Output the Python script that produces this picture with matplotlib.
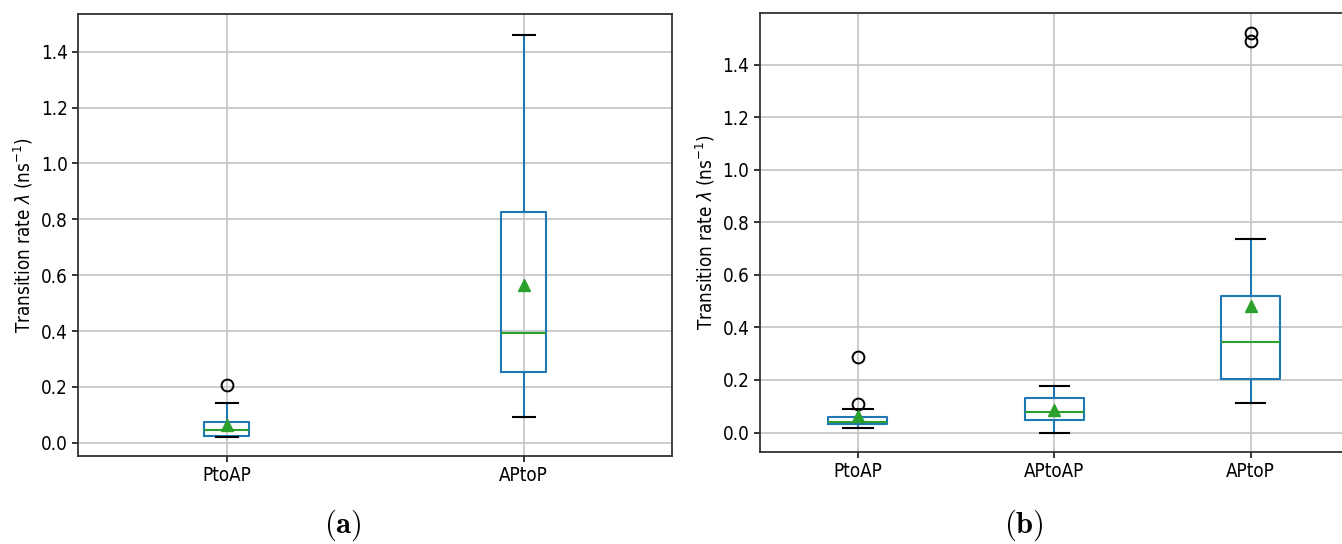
import matplotlib
matplotlib.use("Agg")
import matplotlib.pyplot as plt

# ===== data (box statistics) =====
# panel (a)
A_LABELS = ["PtoAP", "APtoP"]
A_WHISLO = [0.020, 0.092]
A_Q1 = [0.025, 0.253]
A_MED = [0.047, 0.393]
A_Q3 = [0.073, 0.828]
A_WHISHI = [0.142, 1.461]
A_MEAN = [0.064, 0.566]
A_FLIERS = [[0.207], []]

# panel (b)
B_LABELS = ["PtoAP", "APtoAP", "APtoP"]
B_WHISLO = [0.017, 0.000, 0.111]
B_Q1 = [0.032, 0.046, 0.202]
B_MED = [0.042, 0.080, 0.343]
B_Q3 = [0.058, 0.130, 0.520]
B_WHISHI = [0.091, 0.179, 0.736]
B_MEAN = [0.062, 0.085, 0.480]
B_FLIERS = [[0.109, 0.288], [], [1.490, 1.521]]

YTICKS = [0.0, 0.2, 0.4, 0.6, 0.8, 1.0, 1.2, 1.4]
YLABEL = r"Transition rate $\lambda$ (ns$^{-1}$)"

plt.rcParams["font.family"] = "DejaVu Sans"
plt.rcParams["font.stretch"] = "condensed"


def make_stats(labels, whislo, q1, med, q3, whishi, mean, fliers):
    stats = []
    for i in range(len(labels)):
        stats.append({
            "label": labels[i],
            "whislo": whislo[i],
            "q1": q1[i],
            "med": med[i],
            "q3": q3[i],
            "whishi": whishi[i],
            "mean": mean[i],
            "fliers": fliers[i],
        })
    return stats


def draw_panel(ax, stats, ylim):
    ax.bxp(
        stats,
        showmeans=True,
        boxprops=dict(color="#1f77b4", linewidth=1.5),
        whiskerprops=dict(color="#1f77b4", linewidth=1.5),
        capprops=dict(color="black", linewidth=1.5),
        medianprops=dict(color="#2ca02c", linewidth=1.5),
        meanprops=dict(marker="^", markerfacecolor="#2ca02c",
                       markeredgecolor="#2ca02c", markersize=9),
        flierprops=dict(marker="o", markerfacecolor="none",
                        markeredgecolor="black", markersize=8.5,
                        markeredgewidth=1.4),
    )
    ax.set_ylim(*ylim)
    ax.set_yticks(YTICKS)
    ax.set_yticklabels([f"{t:.1f}" for t in YTICKS])
    ax.grid(True, color="#c8c8c8", linewidth=1.3)
    ax.set_axisbelow(True)
    ax.tick_params(labelsize=13.5, length=4, width=1.1)
    ax.set_ylabel(YLABEL, fontsize=13.5)
    for s in ax.spines.values():
        s.set_linewidth(1.3)
        s.set_color("#333333")


fig = plt.figure(figsize=(13.42, 5.44), dpi=100)
ax_a = fig.add_axes([0.0583, 0.1618, 0.4426, 0.8125])
ax_b = fig.add_axes([0.5661, 0.1691, 0.4391, 0.8070])

draw_panel(ax_a, make_stats(A_LABELS, A_WHISLO, A_Q1, A_MED, A_Q3,
                            A_WHISHI, A_MEAN, A_FLIERS), (-0.047, 1.535))
draw_panel(ax_b, make_stats(B_LABELS, B_WHISLO, B_Q1, B_MED, B_Q3,
                            B_WHISHI, B_MEAN, B_FLIERS), (-0.074, 1.596))

fig.text(343 / 1342, 1 - 533 / 544, r"$\mathbf{(a)}$", ha="center",
         va="baseline", fontsize=22, math_fontfamily="cm")
fig.text(1024 / 1342, 1 - 533 / 544, r"$\mathbf{(b)}$", ha="center",
         va="baseline", fontsize=22, math_fontfamily="cm")

fig.savefig("out.png", dpi=100)
